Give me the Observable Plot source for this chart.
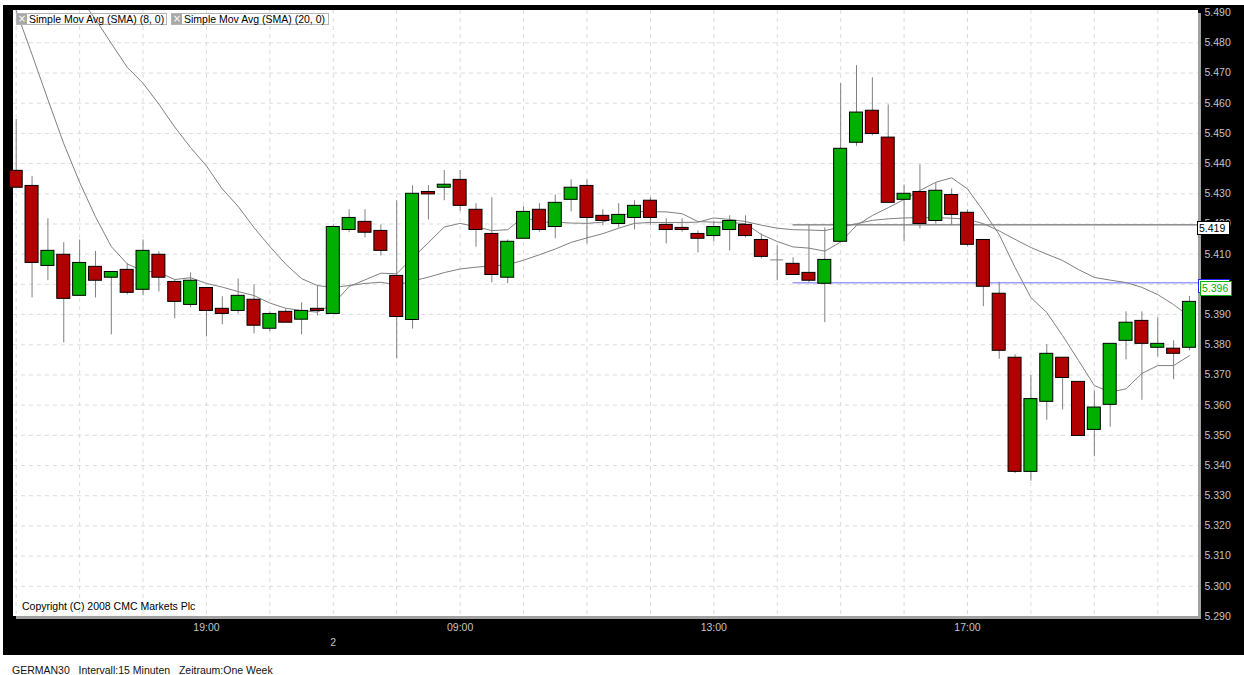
<!DOCTYPE html>
<html><head><meta charset="utf-8">
<script src="https://cdn.jsdelivr.net/npm/d3@7"></script>
<script src="https://cdn.jsdelivr.net/npm/@observablehq/plot@0.6"></script>
<style>
html,body{margin:0;padding:0;background:#fff;width:1244px;height:675px;overflow:hidden;font-family:"Liberation Sans",Arial,sans-serif;}
#bg{position:absolute;left:3px;top:5px;width:1241px;height:650px;background:#000;}
#panel{position:absolute;left:13px;top:10px;width:1185px;height:606px;background:#fff;box-shadow:3px 3px 0 #a0a0a0;}
#chart{position:absolute;left:3px;top:5px;}
.leg{position:absolute;top:13px;height:12px;box-sizing:border-box;border:1px solid #b4b4b4;font-size:10.5px;line-height:10px;color:#000;white-space:nowrap;display:flex;align-items:center;}
.leg .ic{width:10px;height:10px;background:#a8a8a8;color:#fff;font-size:10px;line-height:10px;text-align:center;margin-right:2px;font-family:"DejaVu Sans",sans-serif;}
.lab{position:absolute;box-sizing:border-box;background:#fff;font-size:10.5px;line-height:12px;padding-left:1px;white-space:nowrap;}
#copy{position:absolute;left:22px;top:600px;font-size:10.5px;color:#000;white-space:nowrap;}
#info{position:absolute;left:12px;top:664px;font-size:10.5px;color:#111;white-space:pre;}
</style></head>
<body>
<div id="bg"></div>
<div id="panel"></div>
<div id="chart"></div>
<div class="leg" style="left:16px;width:151px;"><span class="ic">×</span><span id="leg1"></span></div>
<div class="leg" style="left:171px;width:158px;"><span class="ic">×</span><span id="leg2"></span></div>
<div id="copy">Copyright (C) 2008 CMC Markets Plc</div>
<div id="info"></div>
<script>
// ---- data (15-minute candles, GERMAN30) ----
const open  = [5.4376,5.4326,5.4061,5.4098,5.3962,5.4058,5.4022,5.4048,5.3982,5.4098,5.4008,5.3932,5.3988,5.3919,5.3912,5.3949,5.3853,5.3909,5.3883,5.3919,5.3902,5.4180,5.4207,5.4177,5.4028,5.3882,5.4306,5.4320,5.4346,5.4247,5.4167,5.4022,5.4151,5.4247,5.4190,5.4280,5.4326,5.4227,5.4200,5.4220,5.4277,5.4197,5.4187,5.4167,5.4160,5.4180,5.4197,5.4147,5.4081,5.4068,5.4038,5.4002,5.4141,5.4469,5.4575,5.4486,5.4280,5.4306,5.4210,5.4296,5.4237,5.4147,5.3969,5.3757,5.3379,5.3611,5.3757,5.3677,5.3518,5.3601,5.3813,5.3879,5.3790,5.3787,5.3790];
const high  = [5.4546,5.4357,5.4217,5.4138,5.4147,5.4109,5.4041,5.4068,5.4147,5.4108,5.4015,5.4038,5.3988,5.3959,5.4018,5.3998,5.3909,5.3919,5.3939,5.3995,5.4197,5.4247,5.4247,5.4197,5.4277,5.4327,5.4327,5.4377,5.4377,5.4267,5.4287,5.4147,5.4257,5.4267,5.4296,5.4346,5.4346,5.4247,5.4267,5.4277,5.4287,5.4217,5.4217,5.4177,5.4207,5.4227,5.4227,5.4167,5.4127,5.4088,5.4197,5.4187,5.4665,5.4724,5.4684,5.4594,5.4329,5.4396,5.4336,5.4316,5.4247,5.4147,5.4007,5.3767,5.3698,5.3800,5.3757,5.3677,5.3647,5.3803,5.3909,5.3909,5.3889,5.3813,5.3960];
const low   = [5.4320,5.3955,5.4013,5.3806,5.3962,5.3955,5.3833,5.3965,5.3962,5.3975,5.3886,5.3922,5.3826,5.3866,5.3902,5.3836,5.3843,5.3873,5.3833,5.3896,5.3902,5.4171,5.4154,5.4094,5.3753,5.3852,5.4213,5.4277,5.4242,5.4123,5.4005,5.4002,5.4151,5.4173,5.4151,5.4240,5.4134,5.4194,5.4187,5.4180,5.4194,5.4134,5.4173,5.4104,5.4141,5.4111,5.4154,5.4084,5.4012,5.4031,5.4005,5.3873,5.4141,5.4457,5.4492,5.4270,5.4141,5.4184,5.4200,5.4194,5.4124,5.3926,5.3752,5.3373,5.3348,5.3550,5.3584,5.3498,5.3429,5.3527,5.3750,5.3616,5.3760,5.3684,5.3780];
const close = [5.4320,5.4071,5.4111,5.3952,5.4071,5.4012,5.4041,5.3972,5.4111,5.4022,5.3942,5.4012,5.3912,5.3902,5.3962,5.3863,5.3902,5.3873,5.3912,5.3912,5.4190,5.4220,5.4171,5.4111,5.3892,5.4300,5.4298,5.4330,5.4260,5.4180,5.4031,5.4141,5.4240,5.4180,5.4270,5.4320,5.4220,5.4210,5.4230,5.4260,5.4220,5.4180,5.4180,5.4151,5.4190,5.4210,5.4160,5.4091,5.4081,5.4031,5.4012,5.4081,5.4449,5.4569,5.4498,5.4270,5.4300,5.4200,5.4310,5.4230,5.4131,5.3992,5.3780,5.3379,5.3620,5.3770,5.3690,5.3498,5.3592,5.3803,5.3873,5.3803,5.3803,5.3770,5.3942];
// moving averages as drawn
const sma8  = [5.4907,5.4761,5.4612,5.4466,5.4338,5.4224,5.4125,5.4068,5.4044,5.4040,5.4016,5.4022,5.4003,5.3991,5.3976,5.3963,5.3938,5.3921,5.3913,5.3908,5.3935,5.3993,5.4015,5.4037,5.4035,5.4088,5.4138,5.4190,5.4202,5.4191,5.4178,5.4181,5.4223,5.4206,5.4206,5.4203,5.4202,5.4206,5.4224,5.4241,5.4241,5.4240,5.4234,5.4208,5.4206,5.4205,5.4201,5.4165,5.4142,5.4124,5.4120,5.4110,5.4140,5.4195,5.4228,5.4254,5.4281,5.4311,5.4338,5.4353,5.4316,5.4243,5.4165,5.4056,5.3956,5.3907,5.3830,5.3748,5.3665,5.3643,5.3654,5.3705,5.3731,5.3731,5.3764];
const sma20 = [null,null,null,null,5.4951,5.4878,5.4798,5.4719,5.4666,5.4597,5.4521,5.4453,5.4392,5.4316,5.4258,5.4188,5.4125,5.4067,5.4019,5.3996,5.3990,5.3996,5.4003,5.4007,5.3998,5.4011,5.4024,5.4039,5.4051,5.4057,5.4061,5.4065,5.4080,5.4098,5.4117,5.4139,5.4154,5.4168,5.4186,5.4202,5.4205,5.4205,5.4205,5.4206,5.4220,5.4215,5.4208,5.4196,5.4186,5.4181,5.4180,5.4178,5.4190,5.4201,5.4212,5.4217,5.4220,5.4221,5.4221,5.4219,5.4216,5.4201,5.4177,5.4149,5.4122,5.4100,5.4079,5.4049,5.4023,5.4014,5.4006,5.3990,5.3966,5.3933,5.3893];
// axis ticks / labels
const yTicks = [5.290,5.300,5.310,5.320,5.330,5.340,5.350,5.360,5.370,5.380,5.390,5.400,5.410,5.420,5.430,5.440,5.450,5.460,5.470,5.480,5.490];
const yGrid = [5.300,5.310,5.320,5.330,5.340,5.350,5.360,5.370,5.380,5.390,5.400,5.410,5.420,5.430,5.440,5.450,5.460,5.470,5.480];
const hourTicks = [0,4,8,12,16,20,24,28,32,36,40,44,48,52,56,60,64,68,72];
const timeTicks = [12,28,44,60];
const timeLabels = ["19:00","09:00","13:00","17:00"];
const dateTicks = [20];
const dateLabels = ["2"];
// horizontal level lines
const levelValues = [5.4197, 5.4005];
const levelStart = [49, 49];
const levelColors = ["#555555", "#6b6bff"];
const levelLabel = "5.419";
const lastPrice = "5.396";
const legendLabels = ["Simple Mov Avg (SMA) (8, 0)", "Simple Mov Avg (SMA) (20, 0)"];
const infoText = "GERMAN30   Intervall:15 Minuten   Zeitraum:One Week";

const RED = "#b00000", GREEN = "#00b000";
const candles = open.map((o, i) => ({i, open: o, high: high[i], low: low[i], close: close[i]}));
const dojis = candles.filter(d => d.open === d.close);
const s8 = sma8.map((v, i) => ({i, v}));
const s20 = sma20.map((v, i) => ({i, v}));
const levels = levelValues.map((v, k) => ({value: v, from: levelStart[k], color: levelColors[k]}));
const X0 = -0.17, X1 = 74.57;
const fmt = d3.format(".3f");
const FS = 10.5;

const fig = Plot.plot({
  width: 1241, height: 650,
  marginLeft: 10, marginRight: 46, marginTop: 5, marginBottom: 39,
  style: {background: "transparent", fontFamily: "Liberation Sans, Arial, sans-serif", fontSize: "10.5px", overflow: "visible"},
  x: {type: "linear", domain: [X0, X1], axis: null},
  y: {type: "linear", domain: [5.290, 5.4907], axis: null},
  marks: [
    Plot.ruleY(yGrid, {y: d => d, stroke: "#dcdcdc", strokeDasharray: "4,4"}),
    Plot.ruleX(hourTicks, {x: d => d, stroke: "#dcdcdc", strokeDasharray: "4,4"}),
    Plot.ruleY(levels, {y: "value", x1: "from", x2: () => X1, stroke: "color"}),
    Plot.line(s20, {x: "i", y: "v", stroke: "#808080", strokeWidth: 1, clip: true}),
    Plot.line(s8, {x: "i", y: "v", stroke: "#808080", strokeWidth: 1, clip: true}),
    Plot.ruleX(candles, {x: "i", y1: "low", y2: "high", stroke: "#808080"}),
    Plot.rect(candles, {x1: d => d.i - 0.41, x2: d => d.i + 0.41, y1: "open", y2: "close",
      fill: d => d.close >= d.open ? GREEN : RED, stroke: "#000", strokeWidth: 1}),
    Plot.ruleY(dojis, {y: "open", x1: d => d.i - 0.41, x2: d => d.i + 0.41, stroke: "#808080"}),
    Plot.text(yTicks, {y: d => d, frameAnchor: "right", dx: 6, textAnchor: "start", text: d => fmt(d), fill: "#c4c4c4", fontSize: FS}),
    Plot.text(timeTicks, {x: d => d, frameAnchor: "bottom", dy: 14, text: (d, i) => timeLabels[i], fill: "#c4c4c4", fontSize: FS}),
    Plot.text(dateTicks, {x: d => d, frameAnchor: "bottom", dy: 29, text: (d, i) => dateLabels[i], fill: "#c4c4c4", fontSize: FS})
  ]
});
document.getElementById("chart").appendChild(fig);
document.getElementById("leg1").textContent = legendLabels[0];
document.getElementById("leg2").textContent = legendLabels[1];
document.getElementById("info").textContent = infoText;

// price labels on the right, positioned through the y scale
const ys = fig.scale("y");
const py = v => ys.apply(v) + 5;
function addLabel(left, top, w, h, border, color, text) {
  const d = document.createElement("div");
  d.className = "lab";
  Object.assign(d.style, {left: left + "px", top: top + "px", width: w + "px", height: h + "px", border: "1px solid " + border, color});
  d.textContent = text;
  document.body.appendChild(d);
}
addLabel(1197, py(levelValues[0]) - 3, 33, 14, "#000", "#000", levelLabel);
addLabel(1198, py(levelValues[1]) - 3.5, 32, 14, "#2020ff", "#2020ff", "");
addLabel(1200, py(levelValues[1]) - 1.5, 32, 15, GREEN, GREEN, lastPrice);
</script>
</body></html>
